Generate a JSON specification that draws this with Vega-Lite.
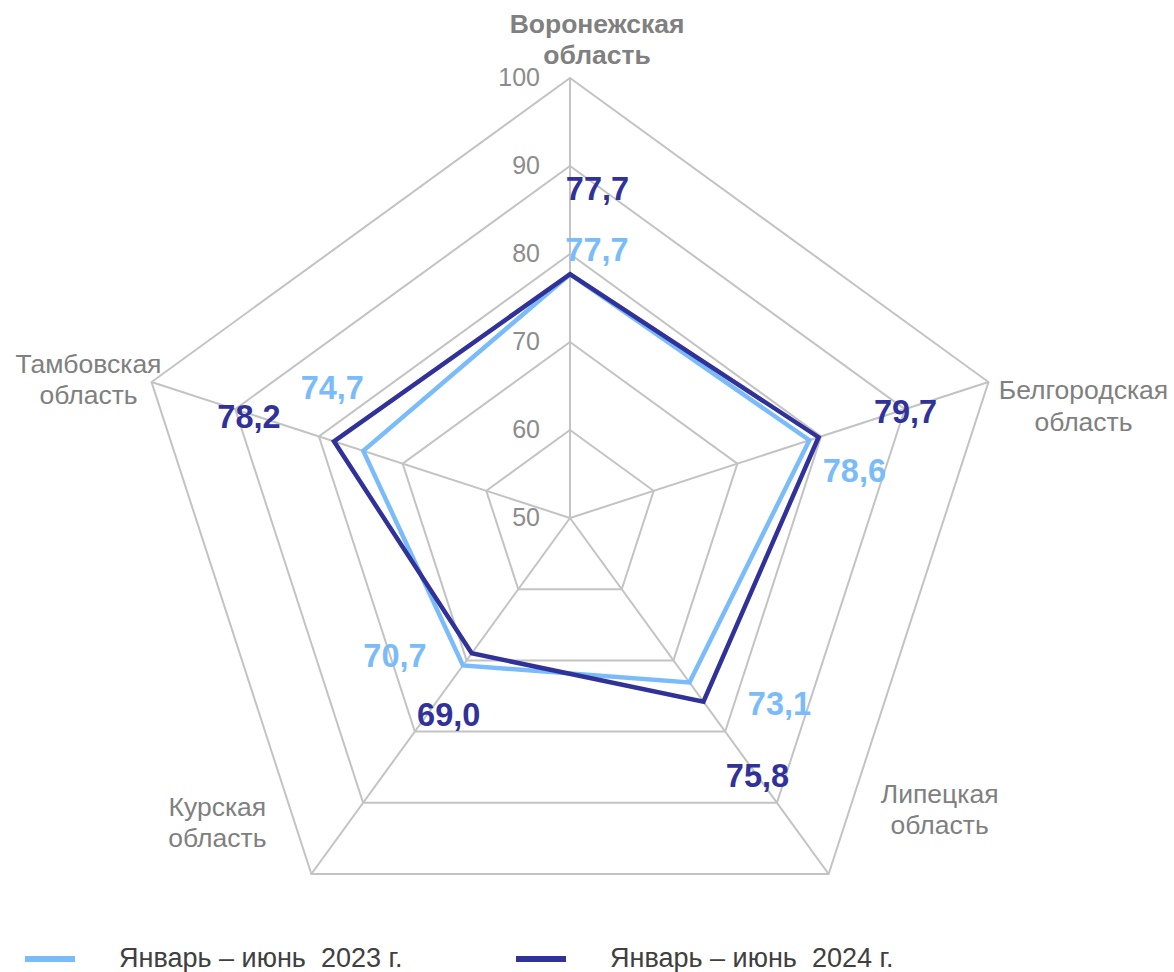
{
  "$schema": "https://vega.github.io/schema/vega-lite/v6.json",
  "width": 1174,
  "height": 972,
  "padding": 0,
  "autosize": "none",
  "background": "white",
  "config": {
    "view": {"stroke": null},
    "font": "Liberation Sans",
    "locale": {"number": {"decimal": ",", "thousands": " ", "grouping": [3], "currency": ["", " ₽"]}}
  },
  "datasets": {
    "scores": [
      {"region": "Воронежская область", "i": 0, "series": "Январь – июнь\u00a0 2023 г.", "value": 77.7},
      {"region": "Белгородская область", "i": 1, "series": "Январь – июнь\u00a0 2023 г.", "value": 78.6},
      {"region": "Липецкая область", "i": 2, "series": "Январь – июнь\u00a0 2023 г.", "value": 73.1},
      {"region": "Курская область", "i": 3, "series": "Январь – июнь\u00a0 2023 г.", "value": 70.7},
      {"region": "Тамбовская область", "i": 4, "series": "Январь – июнь\u00a0 2023 г.", "value": 74.7},
      {"region": "Воронежская область", "i": 0, "series": "Январь – июнь\u00a0 2024 г.", "value": 77.7},
      {"region": "Белгородская область", "i": 1, "series": "Январь – июнь\u00a0 2024 г.", "value": 79.7},
      {"region": "Липецкая область", "i": 2, "series": "Январь – июнь\u00a0 2024 г.", "value": 75.8},
      {"region": "Курская область", "i": 3, "series": "Январь – июнь\u00a0 2024 г.", "value": 69.0},
      {"region": "Тамбовская область", "i": 4, "series": "Январь – июнь\u00a0 2024 г.", "value": 78.2}
    ],
    "rings": [
      {"level": 50, "i": [0, 1, 2, 3, 4]},
      {"level": 60, "i": [0, 1, 2, 3, 4]},
      {"level": 70, "i": [0, 1, 2, 3, 4]},
      {"level": 80, "i": [0, 1, 2, 3, 4]},
      {"level": 90, "i": [0, 1, 2, 3, 4]},
      {"level": 100, "i": [0, 1, 2, 3, 4]}
    ],
    "axes": [
      {"region": "Воронежская область", "i": 0},
      {"region": "Белгородская область", "i": 1},
      {"region": "Липецкая область", "i": 2},
      {"region": "Курская область", "i": 3},
      {"region": "Тамбовская область", "i": 4}
    ]
  },
  "encoding": {
    "x": {"field": "X", "type": "quantitative", "scale": {"domain": [-64.7727, 68.6364], "nice": false, "zero": false}, "axis": null},
    "y": {"field": "Y", "type": "quantitative", "scale": {"domain": [-51.5909, 58.8636], "nice": false, "zero": false}, "axis": null}
  },
  "layer": [
    {
      "data": {"name": "rings"},
      "transform": [
        {"flatten": ["i"]},
        {"calculate": "(datum.level-50)*sin(datum.i*2*PI/5)", "as": "X"},
        {"calculate": "(datum.level-50)*cos(datum.i*2*PI/5)", "as": "Y"}
      ],
      "layer": [
        {
          "transform": [{"filter": "datum.level > 50"}],
          "mark": {"type": "line", "interpolate": "linear-closed", "color": "#c3c3c3", "strokeWidth": 2},
          "encoding": {"detail": {"field": "level", "type": "nominal"}, "order": {"field": "i", "type": "quantitative"}}
        },
        {
          "transform": [{"filter": "datum.level == 100"}],
          "mark": {"type": "rule", "color": "#c3c3c3", "strokeWidth": 2},
          "encoding": {"x2": {"datum": 0}, "y2": {"datum": 0}}
        },
        {
          "transform": [{"filter": "datum.i == 0"}],
          "mark": {"type": "text", "align": "right", "baseline": "middle", "dx": -30, "fontSize": 25, "color": "#8c8c8c"},
          "encoding": {"text": {"field": "level", "type": "quantitative", "format": "d"}}
        }
      ]
    },
    {
      "data": {"name": "axes"},
      "transform": [
        {"calculate": "50*sin(datum.i*2*PI/5)", "as": "X"},
        {"calculate": "50*cos(datum.i*2*PI/5)", "as": "Y"}
      ],
      "layer": [
        {"transform": [{"filter": "datum.i == 0"}], "mark": {"type": "text", "align": "center", "baseline": "alphabetic", "lineBreak": " ", "lineHeight": 31, "fontSize": 26.5, "fontWeight": "bold", "color": "#808080", "dx": 27, "dy": -45}, "encoding": {"text": {"field": "region"}}},
        {"transform": [{"filter": "datum.i == 1"}], "mark": {"type": "text", "align": "center", "baseline": "alphabetic", "lineBreak": " ", "lineHeight": 32, "fontSize": 26.5, "color": "#808080", "dx": 95, "dy": 17}, "encoding": {"text": {"field": "region"}}},
        {"transform": [{"filter": "datum.i == 2"}], "mark": {"type": "text", "align": "center", "baseline": "alphabetic", "lineBreak": " ", "lineHeight": 31, "fontSize": 26.5, "color": "#808080", "dx": 111, "dy": -71}, "encoding": {"text": {"field": "region"}}},
        {"transform": [{"filter": "datum.i == 3"}], "mark": {"type": "text", "align": "center", "baseline": "alphabetic", "lineBreak": " ", "lineHeight": 31, "fontSize": 26.5, "color": "#808080", "dx": -94, "dy": -58}, "encoding": {"text": {"field": "region"}}},
        {"transform": [{"filter": "datum.i == 4"}], "mark": {"type": "text", "align": "center", "baseline": "alphabetic", "lineBreak": " ", "lineHeight": 31, "fontSize": 26.5, "color": "#808080", "dx": -63, "dy": -9}, "encoding": {"text": {"field": "region"}}}
      ]
    },
    {
      "data": {"name": "scores"},
      "transform": [
        {"calculate": "(datum.value-50)*sin(datum.i*2*PI/5)", "as": "X"},
        {"calculate": "(datum.value-50)*cos(datum.i*2*PI/5)", "as": "Y"}
      ],
      "layer": [
        {
          "mark": {"type": "line", "interpolate": "linear-closed", "strokeWidth": 4.5, "strokeJoin": "miter"},
          "encoding": {
            "color": {
              "field": "series",
              "type": "nominal",
              "scale": {"domain": ["Январь – июнь\u00a0 2023 г.", "Январь – июнь\u00a0 2024 г."], "range": ["#7abcfa", "#31319a"]},
              "legend": {
                "orient": "none", "legendX": 22, "legendY": 931, "direction": "horizontal", "title": null,
                "symbolType": "stroke", "symbolSize": 2500, "symbolStrokeWidth": 6,
                "labelFontSize": 27, "labelFont": "Liberation Sans", "labelColor": "#404040",
                "labelOffset": 41, "columnPadding": 101, "padding": 0, "labelLimit": 500
              }
            },
            "order": {"field": "i", "type": "quantitative"}
          }
        },
        {"transform": [{"filter": "datum.i == 0 && indexof(datum.series, '2024') >= 0"}], "mark": {"type": "text", "align": "center", "baseline": "middle", "fontSize": 32.5, "fontWeight": "bold", "color": "#31319a", "dx": 27.5, "dy": -84}, "encoding": {"text": {"field": "value", "type": "quantitative", "format": ".1f"}}},
        {"transform": [{"filter": "datum.i == 1 && indexof(datum.series, '2024') >= 0"}], "mark": {"type": "text", "align": "center", "baseline": "middle", "fontSize": 32.5, "fontWeight": "bold", "color": "#31319a", "dx": 87, "dy": -24}, "encoding": {"text": {"field": "value", "type": "quantitative", "format": ".1f"}}},
        {"transform": [{"filter": "datum.i == 2 && indexof(datum.series, '2024') >= 0"}], "mark": {"type": "text", "align": "center", "baseline": "middle", "fontSize": 32.5, "fontWeight": "bold", "color": "#31319a", "dx": 54, "dy": 75}, "encoding": {"text": {"field": "value", "type": "quantitative", "format": ".1f"}}},
        {"transform": [{"filter": "datum.i == 3 && indexof(datum.series, '2024') >= 0"}], "mark": {"type": "text", "align": "center", "baseline": "middle", "fontSize": 32.5, "fontWeight": "bold", "color": "#31319a", "dx": -23, "dy": 63}, "encoding": {"text": {"field": "value", "type": "quantitative", "format": ".1f"}}},
        {"transform": [{"filter": "datum.i == 4 && indexof(datum.series, '2024') >= 0"}], "mark": {"type": "text", "align": "center", "baseline": "middle", "fontSize": 32.5, "fontWeight": "bold", "color": "#31319a", "dx": -85, "dy": -23}, "encoding": {"text": {"field": "value", "type": "quantitative", "format": ".1f"}}},
        {"transform": [{"filter": "datum.i == 0 && indexof(datum.series, '2023') >= 0"}], "mark": {"type": "text", "align": "center", "baseline": "middle", "fontSize": 32.5, "fontWeight": "bold", "color": "#7abcfa", "dx": 27, "dy": -23}, "encoding": {"text": {"field": "value", "type": "quantitative", "format": ".1f"}}},
        {"transform": [{"filter": "datum.i == 1 && indexof(datum.series, '2023') >= 0"}], "mark": {"type": "text", "align": "center", "baseline": "middle", "fontSize": 32.5, "fontWeight": "bold", "color": "#7abcfa", "dx": 45, "dy": 32}, "encoding": {"text": {"field": "value", "type": "quantitative", "format": ".1f"}}},
        {"transform": [{"filter": "datum.i == 2 && indexof(datum.series, '2023') >= 0"}], "mark": {"type": "text", "align": "center", "baseline": "middle", "fontSize": 32.5, "fontWeight": "bold", "color": "#7abcfa", "dx": 90, "dy": 22.5}, "encoding": {"text": {"field": "value", "type": "quantitative", "format": ".1f"}}},
        {"transform": [{"filter": "datum.i == 3 && indexof(datum.series, '2023') >= 0"}], "mark": {"type": "text", "align": "center", "baseline": "middle", "fontSize": 32.5, "fontWeight": "bold", "color": "#7abcfa", "dx": -68, "dy": -8}, "encoding": {"text": {"field": "value", "type": "quantitative", "format": ".1f"}}},
        {"transform": [{"filter": "datum.i == 4 && indexof(datum.series, '2023') >= 0"}], "mark": {"type": "text", "align": "center", "baseline": "middle", "fontSize": 32.5, "fontWeight": "bold", "color": "#7abcfa", "dx": -31, "dy": -62}, "encoding": {"text": {"field": "value", "type": "quantitative", "format": ".1f"}}}
      ]
    }
  ]
}
